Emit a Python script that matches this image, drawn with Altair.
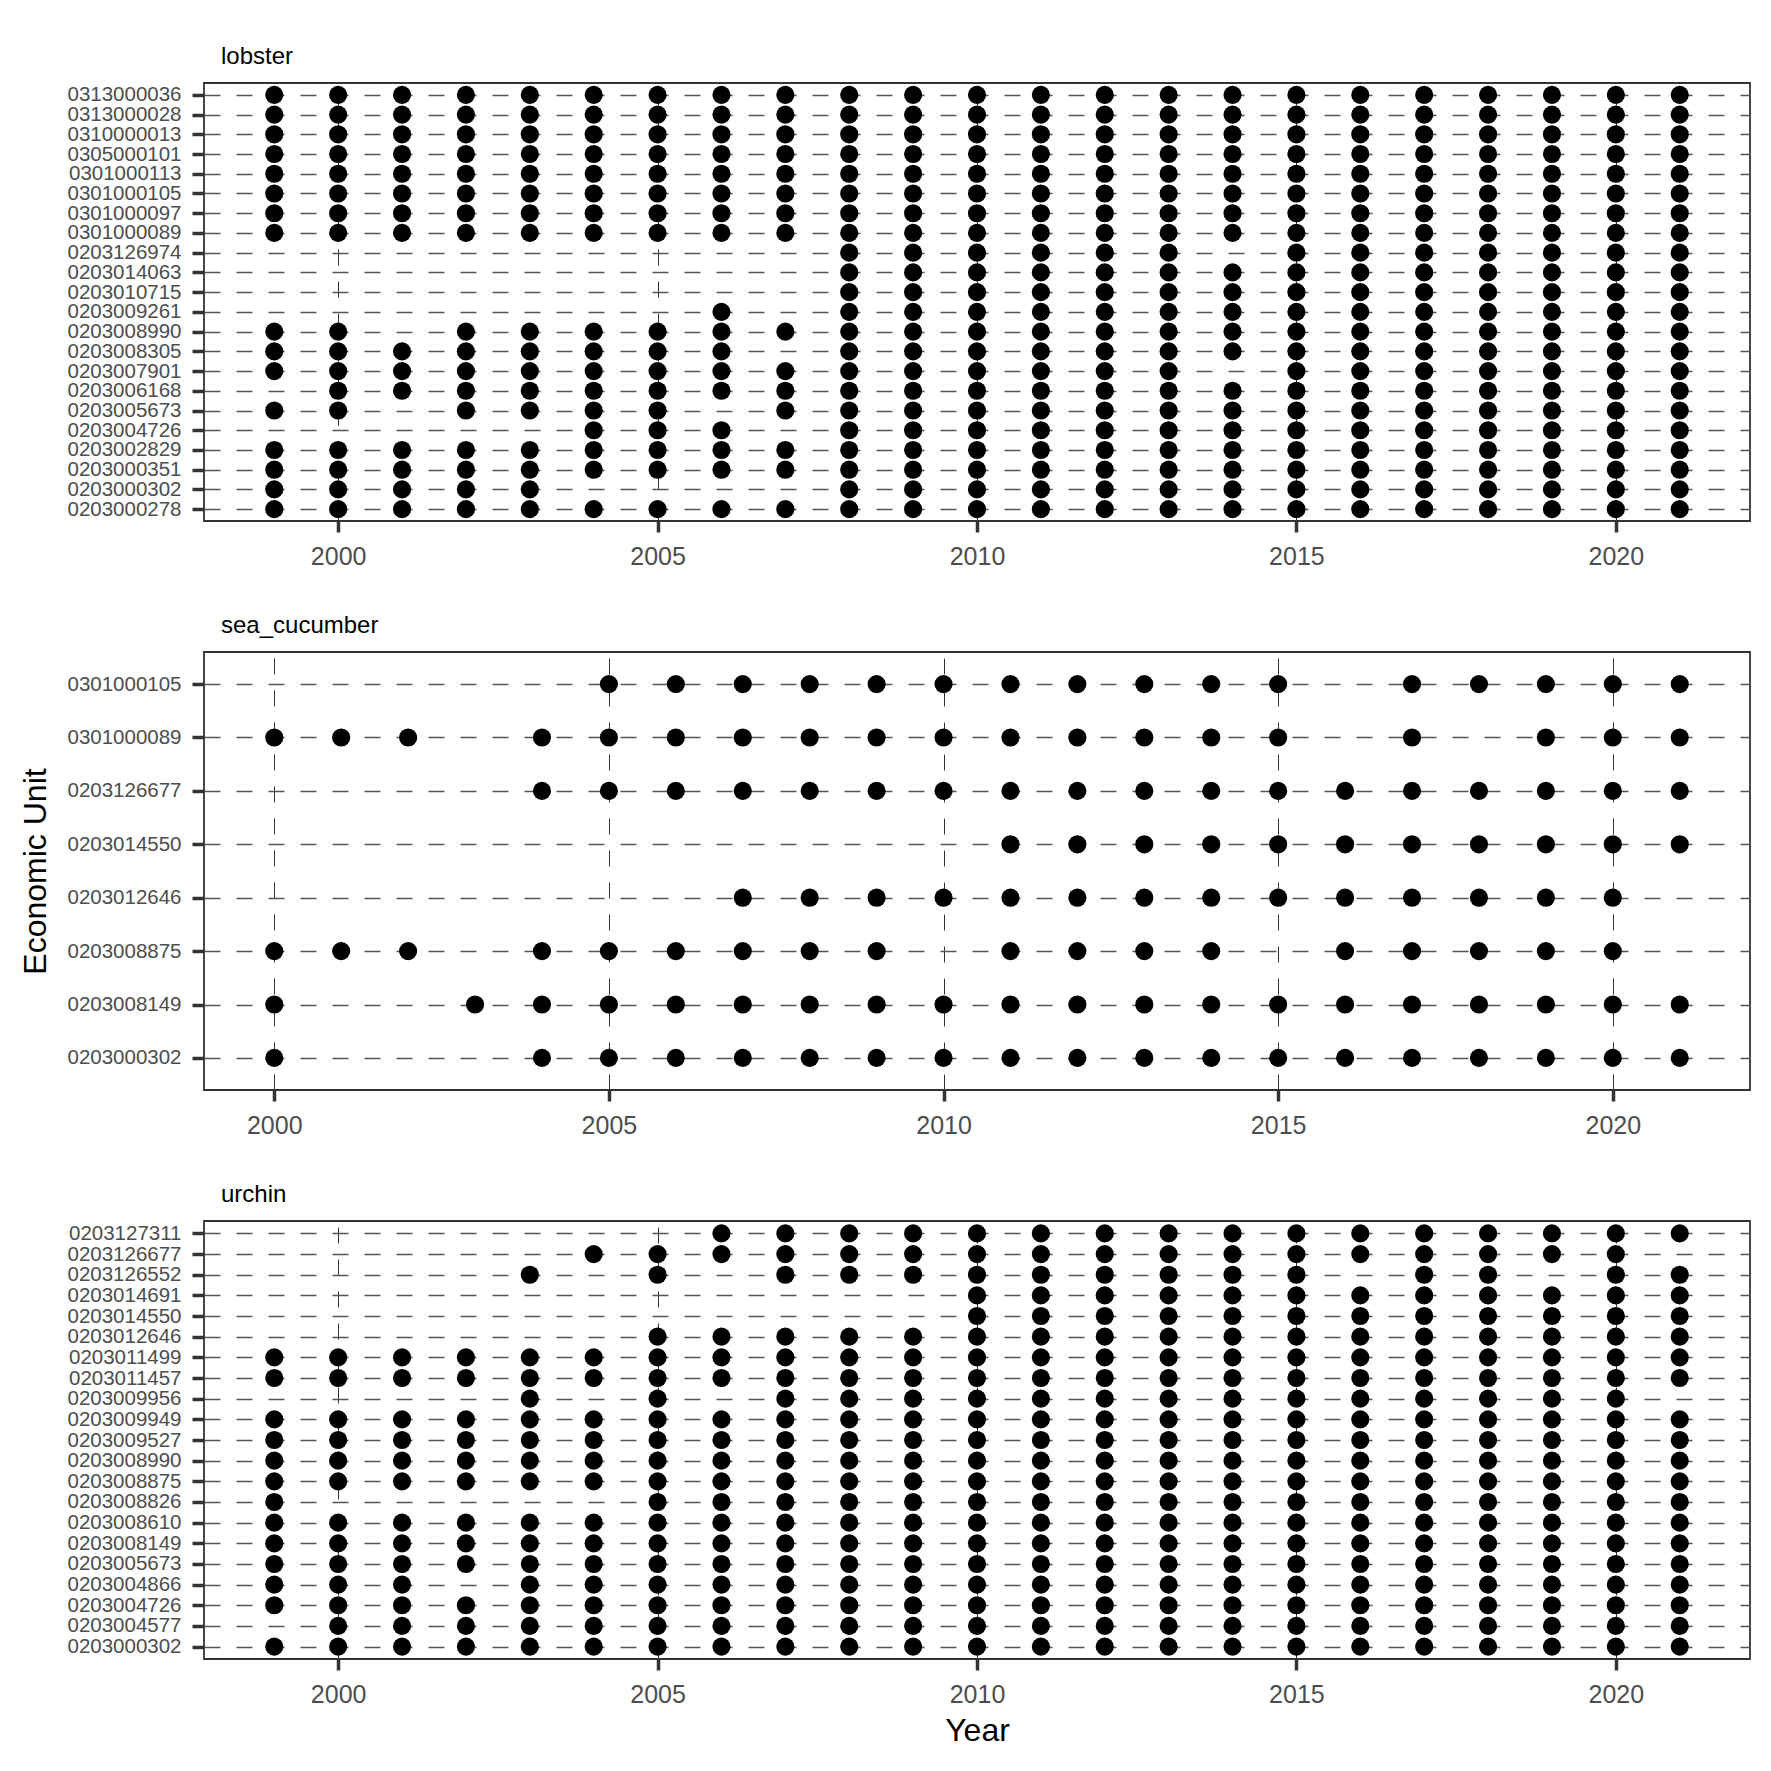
import altair as alt
import pandas as pd

# ---------------- data ----------------
# presence strings: one character per year, "X" = record present, "." = absent
lobster_years = [1999, 2000, 2001, 2002, 2003, 2004, 2005, 2006, 2007, 2008, 2009,
                 2010, 2011, 2012, 2013, 2014, 2015, 2016, 2017, 2018, 2019, 2020, 2021]
lobster_units = ["0313000036", "0313000028", "0310000013", "0305000101", "0301000113",
                 "0301000105", "0301000097", "0301000089", "0203126974", "0203014063",
                 "0203010715", "0203009261", "0203008990", "0203008305", "0203007901",
                 "0203006168", "0203005673", "0203004726", "0203002829", "0203000351",
                 "0203000302", "0203000278"]
lobster_presence = [
    "XXXXXXXXXX" "XXXXXXXXXXXXX",
    "XXXXXXXXXX" "XXXXXXXXXXXXX",
    "XXXXXXXXXX" "XXXXXXXXXXXXX",
    "XXXXXXXXXX" "XXXXXXXXXXXXX",
    "XXXXXXXXXX" "XXXXXXXXXXXXX",
    "XXXXXXXXXX" "XXXXXXXXXXXXX",
    "XXXXXXXXXX" "XXXXXXXXXXXXX",
    "XXXXXXXXXX" "XXXXXXXXXXXXX",
    ".........X" "XXXXX.XXXXXXX",
    ".........X" "XXXXXXXXXXXXX",
    ".........X" "XXXXXXXXXXXXX",
    ".......X.X" "XXXXXXXXXXXXX",
    "XX.XXXXXXX" "XXXXXXXXXXXXX",
    "XXXXXXXX.X" "XXXXXXXXXXXXX",
    "XXXXXXXXXX" "XXXXX.XXXXXXX",
    ".XXXXXXXXX" "XXXXXXXXXXXXX",
    "XX.XXXX.XX" "XXXXXXXXXXXXX",
    ".....XXX.X" "XXXXXXXXXXXXX",
    "XXXXXXXXXX" "XXXXXXXXXXXXX",
    "XXXXXXXXXX" "XXXXXXXXXXXXX",
    "XXXXX....X" "XXXXXXXXXXXXX",
    "XXXXXXXXXX" "XXXXXXXXXXXXX",
]

cucumber_years = [2000, 2001, 2002, 2003, 2004, 2005, 2006, 2007, 2008, 2009, 2010,
                  2011, 2012, 2013, 2014, 2015, 2016, 2017, 2018, 2019, 2020, 2021]
cucumber_units = ["0301000105", "0301000089", "0203126677", "0203014550",
                  "0203012646", "0203008875", "0203008149", "0203000302"]
cucumber_presence = [
    ".....XXXXX" "XXXXXX.XXXXX",
    "XXX.XXXXXX" "XXXXXX.X.XXX",
    "....XXXXXX" "XXXXXXXXXXXX",
    ".........." ".XXXXXXXXXXX",
    ".......XXX" "XXXXXXXXXXX.",
    "XXX.XXXXXX" ".XXXX.XXXXX.",
    "X..XXXXXXX" "XXXXXXXXXXXX",
    "X...XXXXXX" "XXXXXXXXXXXX",
]

urchin_years = lobster_years
urchin_units = ["0203127311", "0203126677", "0203126552", "0203014691", "0203014550",
                "0203012646", "0203011499", "0203011457", "0203009956", "0203009949",
                "0203009527", "0203008990", "0203008875", "0203008826", "0203008610",
                "0203008149", "0203005673", "0203004866", "0203004726", "0203004577",
                "0203000302"]
urchin_presence = [
    ".......XXX" "XXXXXXXXXXXXX",
    ".....XXXXX" "XXXXXXXXXXXX.",
    "....X.X.XX" "XXXXXXX.XX.XX",
    ".........." ".XXXXXXXXXXXX",
    ".........." ".XXXXXXXXXXXX",
    "......XXXX" "XXXXXXXXXXXXX",
    "XXXXXXXXXX" "XXXXXXXXXXXXX",
    "XXXXXXXXXX" "XXXXXXXXXXXXX",
    "....X.X.XX" "XXXXXXXXXXXX.",
    "XXXXXXXXXX" "XXXXXXXXXXXXX",
    "XXXXXXXXXX" "XXXXXXXXXXXXX",
    "XXXXXXXXXX" "XXXXXXXXXXXXX",
    "XXXXXXXXXX" "XXXXXXXXXXXXX",
    "X.....XXXX" "XXXXXXXXXXXXX",
    "XXXXXXXXXX" "XXXXXXXXXXXXX",
    "XXXXXXXXXX" "XXXXXXXXXXXXX",
    "XXXXXXXXXX" "XXXXXXXXXXXXX",
    "XXX.XXXXXX" "XXXXXXXXXXXXX",
    "XXXXXXXXXX" "XXXXXXXXXXXXX",
    ".XXXXXXXXX" "XXXXXXXXXXXXX",
    "XXXXXXXXXX" "XXXXXXXXXXXXX",
]

x_ticks = [2000, 2005, 2010, 2015, 2020]

FONT = "Liberation Sans"


def table(units, years, presence):
    rows = []
    for unit, pres in zip(units, presence):
        for yr, flag in zip(years, pres):
            if flag == "X":
                rows.append({"unit": unit, "year": yr})
    return pd.DataFrame(rows)


def panel(name, units, years, presence, x_domain, x_title=None, y_title=None):
    df = table(units, years, presence)
    x_axis = alt.Axis(values=x_ticks, format="d", labelFontSize=25, labelColor="#4d4d4d",
                      labelFont=FONT, tickSize=11, tickWidth=3.5, tickColor="#333333",
                      labelPadding=12, domain=False, grid=True, gridDash=[16, 16],
                      gridColor="#333333", gridWidth=1, title=x_title,
                      titleFontSize=32, titleFontWeight="normal", titleColor="black",
                      titleFont=FONT, titlePadding=8)
    y_axis = alt.Axis(labelFontSize=20.5, labelColor="#4d4d4d", labelFont=FONT,
                      tickSize=12, tickWidth=3.5, tickColor="#333333", labelPadding=11,
                      domain=False, grid=True, gridDash=[16, 16], gridColor="#555555",
                      gridWidth=1.4, title=y_title, titleFontSize=32,
                      titleFontWeight="normal", titleColor="black", titleFont=FONT,
                      titlePadding=14)
    return alt.Chart(df).mark_circle(size=330, color="black", opacity=1).encode(
        x=alt.X("year:Q", scale=alt.Scale(domain=x_domain, nice=False, zero=False), axis=x_axis),
        y=alt.Y("unit:N", scale=alt.Scale(type="point", domain=units, padding=0.6), axis=y_axis),
    ).properties(
        width=1546, height=438,
        title=alt.TitleParams(text=name, anchor="start", frame="group", fontSize=24,
                              font=FONT, fontWeight="normal", color="black", dx=17,
                              dy=25, offset=20, baseline="alphabetic"),
    )


c1 = panel("lobster", lobster_units, lobster_years, lobster_presence, [1997.9, 2022.1])
c2 = panel("sea_cucumber", cucumber_units, cucumber_years, cucumber_presence,
           [1998.95, 2022.05], y_title="Economic Unit")
c3 = panel("urchin", urchin_units, urchin_years, urchin_presence, [1997.9, 2022.1],
           x_title="Year")

chart = alt.vconcat(c1, c2, c3, spacing=131, bounds="flush").properties(
    padding={"left": 19, "top": 44, "right": 5, "bottom": 5},
    background="white",
).configure(font=FONT).configure_view(stroke="#333333", strokeWidth=1.8)

chart.save("out.html", embed_options={"renderer": "svg", "actions": False})
